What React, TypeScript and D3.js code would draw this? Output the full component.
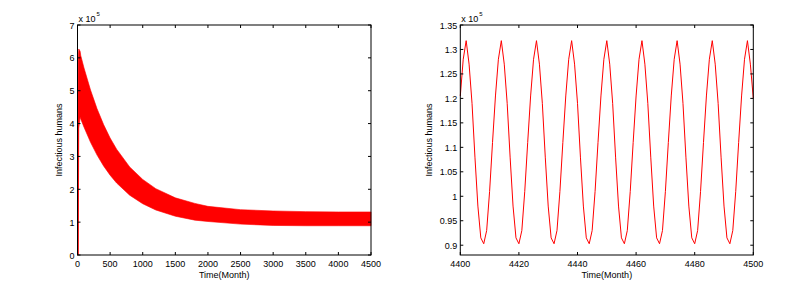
import * as d3 from 'd3'

// left panel: the monthly oscillation is too dense to resolve, so it shows as a band.
// envelope of the band (x 1e5)
const bandMonths = [0, 10, 20, 40, 50, 100, 200, 300, 400, 500, 600, 800, 1000, 1200, 1500, 1800, 2000, 2500, 3000, 3500, 4000, 4500]
const bandUpper = [0, 6.0, 6.27, 6.2, 6.07, 5.69, 5.02, 4.45, 3.97, 3.56, 3.22, 2.68, 2.3, 2.02, 1.74, 1.57, 1.48, 1.38, 1.34, 1.32, 1.31, 1.31]
const bandLower = [0, 0, 3.85, 4.2, 4.14, 3.89, 3.43, 3.04, 2.71, 2.43, 2.19, 1.82, 1.56, 1.37, 1.18, 1.06, 1.02, 0.94, 0.9, 0.89, 0.89, 0.89]

// right panel: months 4400..4500, one value per month (x 1e5)
const zoomStart = 4400
const zoomValues = [
  1.205, 1.28, 1.318, 1.27, 1.19, 1.08, 0.98, 0.915, 0.903, 0.93, 1.01, 1.11,
  1.205, 1.28, 1.318, 1.27, 1.19, 1.08, 0.98, 0.915, 0.903, 0.93, 1.01, 1.11,
  1.205, 1.28, 1.318, 1.27, 1.19, 1.08, 0.98, 0.915, 0.903, 0.93, 1.01, 1.11,
  1.205, 1.28, 1.318, 1.27, 1.19, 1.08, 0.98, 0.915, 0.903, 0.93, 1.01, 1.11,
  1.205, 1.28, 1.318, 1.27, 1.19, 1.08, 0.98, 0.915, 0.903, 0.93, 1.01, 1.11,
  1.205, 1.28, 1.318, 1.27, 1.19, 1.08, 0.98, 0.915, 0.903, 0.93, 1.01, 1.11,
  1.205, 1.28, 1.318, 1.27, 1.19, 1.08, 0.98, 0.915, 0.903, 0.93, 1.01, 1.11,
  1.205, 1.28, 1.318, 1.27, 1.19, 1.08, 0.98, 0.915, 0.903, 0.93, 1.01, 1.11,
  1.205, 1.28, 1.318, 1.27, 1.2,
]

const leftXTicks = [0, 500, 1000, 1500, 2000, 2500, 3000, 3500, 4000, 4500]
const leftYTicks = [0, 1, 2, 3, 4, 5, 6, 7]
const rightXTicks = [4400, 4420, 4440, 4460, 4480, 4500]
const rightYTicks = [0.9, 0.95, 1, 1.05, 1.1, 1.15, 1.2, 1.25, 1.3, 1.35]

const font = '"Liberation Sans", Arial, sans-serif'
const fs = 9
const tickLen = 3
const top = 25
const bottom = 255

function Frame({ x, y, xTicks, yTicks, xFmt, yFmt, labelGap }) {
  const [x0, x1] = x.range()
  return (
    <g fontFamily={font} fontSize={fs} fill="#000">
      <rect x={x0} y={top} width={x1 - x0} height={bottom - top} fill="none" stroke="#000" strokeWidth={1} />
      {xTicks.map((t) => (
        <g key={'x' + t}>
          <line x1={x(t)} x2={x(t)} y1={bottom} y2={bottom - tickLen} stroke="#000" />
          <line x1={x(t)} x2={x(t)} y1={top} y2={top + tickLen} stroke="#000" />
          <text x={x(t)} y={bottom + 12} textAnchor="middle">{xFmt(t)}</text>
        </g>
      ))}
      {yTicks.map((t) => (
        <g key={'y' + t}>
          <line x1={x0} x2={x0 + tickLen} y1={y(t)} y2={y(t)} stroke="#000" />
          <line x1={x1} x2={x1 - tickLen} y1={y(t)} y2={y(t)} stroke="#000" />
          <text x={x0 - 3} y={y(t) + 3.5} textAnchor="end">{yFmt(t)}</text>
        </g>
      ))}
      <text x={(x0 + x1) / 2} y={bottom + 23} textAnchor="middle">Time(Month)</text>
      <text transform={`translate(${x0 - labelGap},${(top + bottom) / 2}) rotate(-90)`} textAnchor="middle">Infectious humans</text>
      <text x={x0 + 1} y={top - 3}>x 10</text>
      <text x={x0 + 19} y={top - 9} fontSize={6}>5</text>
    </g>
  )
}

export default function App() {
  const xL = d3.scaleLinear().domain([0, 4500]).range([77.5, 371])
  const yL = d3.scaleLinear().domain([0, 7]).range([bottom, top])
  const xR = d3.scaleLinear().domain([4400, 4500]).range([460.3, 753.3])
  const yR = d3.scaleLinear().domain([0.88, 1.35]).range([bottom, top])

  const band = d3
    .area<number>()
    .x((i) => xL(bandMonths[i]))
    .y0((i) => yL(bandLower[i]))
    .y1((i) => yL(bandUpper[i]))
  const bandPath = band(d3.range(bandMonths.length)) || ''

  const line = d3
    .line<number>()
    .x((v, i) => xR(zoomStart + i))
    .y((v) => yR(v))
  const linePath = line(zoomValues) || ''

  return (
    <svg width={810} height={293} style={{ position: 'absolute', left: 0, top: 0, background: '#fff' }}>
      <path d={bandPath} fill="#ff0000" stroke="#ff0000" strokeWidth={0.6} />
      <line x1={xL(0) + 0.5} x2={xL(0) + 0.5} y1={yL(0)} y2={yL(4.3)} stroke="#ff0000" strokeWidth={1.2} />
      <Frame x={xL} y={yL} xTicks={leftXTicks} yTicks={leftYTicks} xFmt={(t) => String(t)} yFmt={(t) => String(t)} labelGap={15.5} />
      <path d={linePath} fill="none" stroke="#ff0000" strokeWidth={1} />
      <Frame
        x={xR}
        y={yR}
        xTicks={rightXTicks}
        yTicks={rightYTicks}
        xFmt={(t) => String(t)}
        yFmt={(t) => String(+t.toFixed(2))}
        labelGap={28.5}
      />
    </svg>
  )
}
